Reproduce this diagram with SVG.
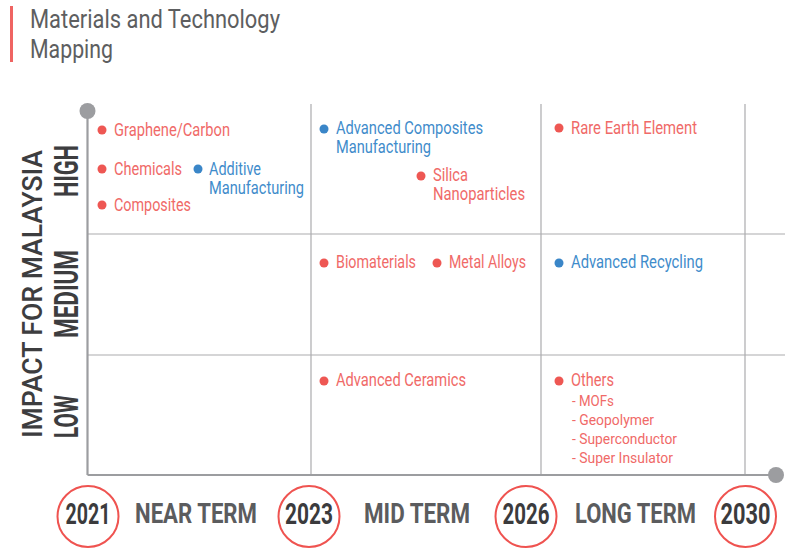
<svg xmlns="http://www.w3.org/2000/svg" width="785" height="548" viewBox="0 0 785 548">
<defs>
<style>
.t{font-family:Roboto,"Liberation Sans",sans-serif;}
.red{fill:#f06a68;font-size:17.5px;}
.blue{fill:#3f8ccb;font-size:17.5px;}
.sub{fill:#f06a68;font-size:15.5px;}
.dr{fill:#ee5753;}
.db{fill:#3a86c8;}
.grid{stroke:#ababad;stroke-width:1.2;fill:none;}
.axis{stroke:#9c9da0;stroke-width:2.2;fill:none;}
.cap{fill:#3d3d3f;font-weight:700;}
.yr{fill:#3b3b3d;font-weight:700;font-size:29px;}
.term{fill:#5b5c5e;font-weight:700;font-size:28px;}
.ring{fill:none;stroke:#ef5350;stroke-width:2;}
</style>
</defs>
<rect width="785" height="548" fill="#ffffff"/>
<g id="title">
<rect x="10" y="6" width="3" height="56" fill="#ef6462"/>
<text class="t" x="30" y="28" font-size="25" fill="#5d5e60" textLength="250" lengthAdjust="spacingAndGlyphs">Materials and Technology</text>
<text class="t" x="30" y="58" font-size="25" fill="#5d5e60" textLength="83" lengthAdjust="spacingAndGlyphs">Mapping</text>
</g>
<g id="connectors">
<line class="grid" x1="311" y1="104" x2="311" y2="475"/>
<line class="grid" x1="541" y1="104" x2="541" y2="475"/>
<line class="grid" x1="745" y1="104" x2="745" y2="475"/>
<line class="grid" x1="88" y1="234" x2="785" y2="234"/>
<line class="grid" x1="88" y1="355" x2="785" y2="355"/>
<line class="axis" x1="87.5" y1="111" x2="87.5" y2="475"/>
<line class="axis" x1="87.5" y1="475" x2="776" y2="475"/>
<circle cx="87.5" cy="111" r="8" fill="#9c9da0"/>
<circle cx="776" cy="475" r="8" fill="#9c9da0"/>
</g>
<g id="y-labels">
<text class="t cap" font-size="28" font-weight="500" transform="translate(42,294) rotate(-90)" text-anchor="middle" textLength="288" lengthAdjust="spacingAndGlyphs" style="font-weight:500">IMPACT FOR MALAYSIA</text>
<text class="t cap" font-size="34" transform="translate(78,171) rotate(-90)" text-anchor="middle" textLength="52" lengthAdjust="spacingAndGlyphs">HIGH</text>
<text class="t cap" font-size="34" transform="translate(78,294) rotate(-90)" text-anchor="middle" textLength="88" lengthAdjust="spacingAndGlyphs">MEDIUM</text>
<text class="t cap" font-size="34" transform="translate(78,416.5) rotate(-90)" text-anchor="middle" textLength="43" lengthAdjust="spacingAndGlyphs">LOW</text>
</g>
<g id="graphene">
<circle class="dr" cx="102" cy="130" r="4.5"/>
<text class="t red" x="114" y="136" textLength="116" lengthAdjust="spacingAndGlyphs">Graphene/Carbon</text>
</g>
<g id="chemicals">
<circle class="dr" cx="102" cy="169" r="4.5"/>
<text class="t red" x="114" y="175" textLength="68" lengthAdjust="spacingAndGlyphs">Chemicals</text>
</g>
<g id="additive">
<circle class="db" cx="198" cy="169" r="4.5"/>
<text class="t blue" x="209" y="175" textLength="52" lengthAdjust="spacingAndGlyphs">Additive</text>
<text class="t blue" x="209" y="194" textLength="95" lengthAdjust="spacingAndGlyphs">Manufacturing</text>
</g>
<g id="composites">
<circle class="dr" cx="102" cy="205" r="4.5"/>
<text class="t red" x="114" y="211" textLength="77" lengthAdjust="spacingAndGlyphs">Composites</text>
</g>
<g id="adv-composites">
<circle class="db" cx="324" cy="129" r="4.5"/>
<text class="t blue" x="336" y="134" textLength="147" lengthAdjust="spacingAndGlyphs">Advanced Composites</text>
<text class="t blue" x="336" y="153" textLength="95" lengthAdjust="spacingAndGlyphs">Manufacturing</text>
</g>
<g id="silica">
<circle class="dr" cx="421" cy="176" r="4.5"/>
<text class="t red" x="433" y="181" textLength="35" lengthAdjust="spacingAndGlyphs">Silica</text>
<text class="t red" x="433" y="200" textLength="92" lengthAdjust="spacingAndGlyphs">Nanoparticles</text>
</g>
<g id="rare-earth">
<circle class="dr" cx="559" cy="128" r="4.5"/>
<text class="t red" x="571" y="134" textLength="126" lengthAdjust="spacingAndGlyphs">Rare Earth Element</text>
</g>
<g id="biomaterials">
<circle class="dr" cx="324" cy="263" r="4.5"/>
<text class="t red" x="336" y="268" textLength="80" lengthAdjust="spacingAndGlyphs">Biomaterials</text>
</g>
<g id="metal-alloys">
<circle class="dr" cx="437" cy="263" r="4.5"/>
<text class="t red" x="449" y="268" textLength="77" lengthAdjust="spacingAndGlyphs">Metal Alloys</text>
</g>
<g id="adv-recycling">
<circle class="db" cx="559" cy="263" r="4.5"/>
<text class="t blue" x="571" y="268" textLength="132" lengthAdjust="spacingAndGlyphs">Advanced Recycling</text>
</g>
<g id="adv-ceramics">
<circle class="dr" cx="324" cy="381" r="4.5"/>
<text class="t red" x="336" y="386" textLength="130" lengthAdjust="spacingAndGlyphs">Advanced Ceramics</text>
</g>
<g id="others">
<circle class="dr" cx="559" cy="381" r="4.5"/>
<text class="t red" x="571" y="386" textLength="43" lengthAdjust="spacingAndGlyphs">Others</text>
<text class="t sub" x="572" y="406" textLength="42" lengthAdjust="spacingAndGlyphs">- MOFs</text>
<text class="t sub" x="572" y="425" textLength="82" lengthAdjust="spacingAndGlyphs">- Geopolymer</text>
<text class="t sub" x="572" y="444" textLength="105" lengthAdjust="spacingAndGlyphs">- Superconductor</text>
<text class="t sub" x="572" y="463" textLength="101" lengthAdjust="spacingAndGlyphs">- Super Insulator</text>
</g>
<g id="y2021">
<circle class="ring" cx="88" cy="516.5" r="30.5"/>
<text class="t yr" x="88" y="524" text-anchor="middle" textLength="45" lengthAdjust="spacingAndGlyphs">2021</text>
</g>
<g id="near-term">
<text class="t term" x="135" y="523" textLength="122" lengthAdjust="spacingAndGlyphs">NEAR TERM</text>
</g>
<g id="y2023">
<circle class="ring" cx="309" cy="516.5" r="30.5"/>
<text class="t yr" x="309" y="524" text-anchor="middle" textLength="48" lengthAdjust="spacingAndGlyphs">2023</text>
</g>
<g id="mid-term">
<text class="t term" x="364" y="523" textLength="106" lengthAdjust="spacingAndGlyphs">MID TERM</text>
</g>
<g id="y2026">
<circle class="ring" cx="526" cy="516.5" r="30.5"/>
<text class="t yr" x="526" y="524" text-anchor="middle" textLength="47" lengthAdjust="spacingAndGlyphs">2026</text>
</g>
<g id="long-term">
<text class="t term" x="575" y="523" textLength="121" lengthAdjust="spacingAndGlyphs">LONG TERM</text>
</g>
<g id="y2030">
<circle class="ring" cx="745.5" cy="516.5" r="30.5"/>
<text class="t yr" x="745.5" y="524" text-anchor="middle" textLength="50" lengthAdjust="spacingAndGlyphs">2030</text>
</g>
</svg>
